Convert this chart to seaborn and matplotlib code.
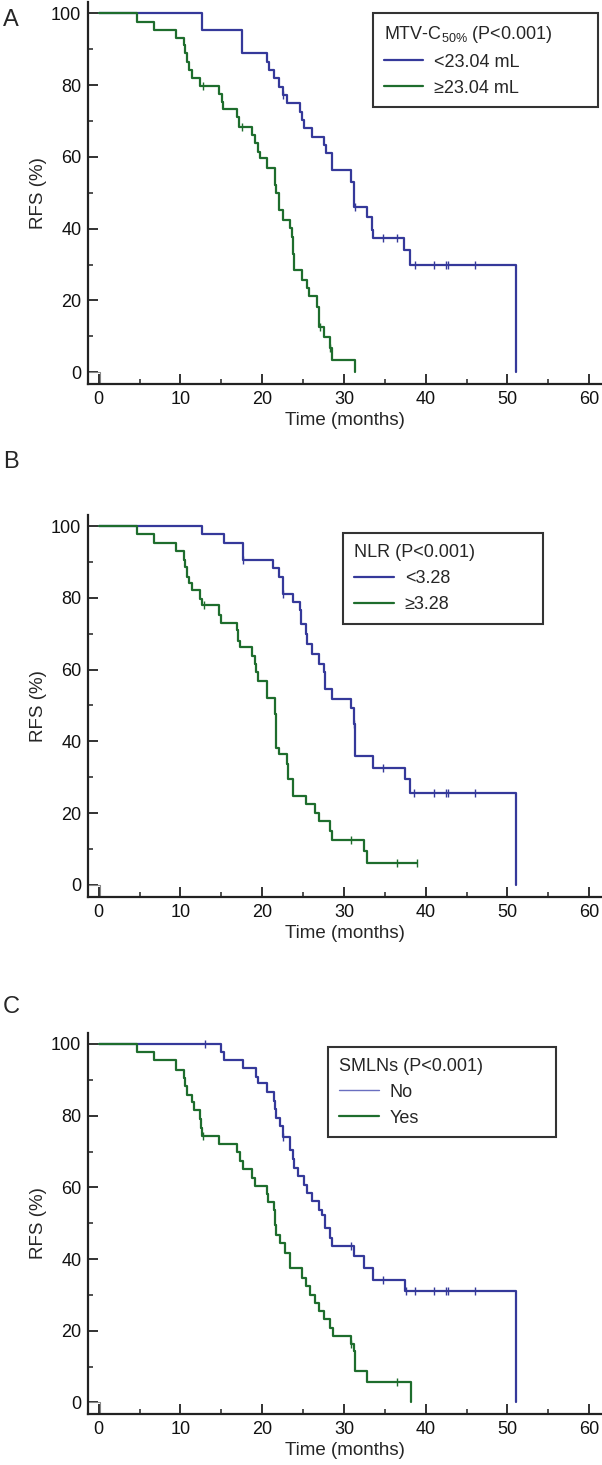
import numpy as np
import pandas as pd
import seaborn as sns
import matplotlib.pyplot as plt

# ---- data (time in months, RFS in %) ----
# Panel A: MTV-C50%
a_low_t = [0, 12.6, 17.5, 20.6, 20.8, 21.4, 22.0, 22.6, 23.0, 24.6, 24.9, 25.1, 26.1, 27.6, 27.8,
           28.5, 30.8, 31.2, 32.8, 33.4, 33.5, 37.3, 38.1, 51.0]
a_low_s = [100, 95.5, 88.9, 86.5, 84.2, 81.9, 79.6, 77.3, 75.0, 72.6, 70.3, 68.0, 65.6, 63.3, 61.0,
           56.4, 53.1, 46.1, 43.3, 39.6, 37.3, 34.0, 30.0, 0]
a_low_cens = [22.6, 31.3, 34.8, 36.5, 38.7, 41.0, 42.5, 42.7, 46.0]
a_high_t = [0, 4.65, 6.8, 9.4, 10.4, 10.6, 10.8, 11.0, 11.4, 12.4, 14.7, 15.1, 15.2, 16.9, 17.2,
            18.7, 19.1, 19.5, 19.7, 20.6, 21.6, 21.65, 22.0, 22.6, 23.4, 23.6, 23.8, 23.9, 24.9,
            25.5, 25.7, 26.7, 26.9, 27.5, 28.3, 28.5, 31.4]
a_high_s = [100, 97.7, 95.5, 93.2, 91.2, 88.9, 86.5, 84.2, 81.9, 79.8, 77.5, 75.4, 73.3, 71.2, 68.4,
            66.1, 63.8, 61.5, 59.6, 56.8, 52.3, 49.9, 45.2, 42.4, 40.1, 37.8, 33.0, 28.5, 25.8,
            23.4, 21.1, 18.3, 12.7, 9.9, 6.6, 3.4, 0]
a_high_cens = [12.8, 17.5, 27.1, 28.3]

# Panel B: NLR
b_low_t = [0, 12.6, 15.3, 17.6, 21.3, 22.0, 22.5, 23.8, 24.6, 24.7, 25.3, 25.5, 26.1, 26.9, 27.5,
           27.7, 28.5, 30.8, 31.2, 31.3, 31.4, 33.6, 37.5, 38.1, 51.0]
b_low_s = [100, 97.8, 95.3, 90.5, 88.2, 85.8, 81.2, 78.8, 76.5, 72.8, 70.0, 67.2, 64.4, 61.6, 59.2,
           54.6, 51.8, 49.4, 44.8, 40.1, 35.9, 32.6, 29.4, 25.6, 0]
b_low_cens = [17.6, 22.5, 31.2, 34.8, 38.6, 41.0, 42.5, 42.7, 46.0]
b_high_t = [0, 4.65, 6.8, 9.5, 10.4, 10.6, 10.8, 11.0, 11.4, 12.4, 12.6, 14.7, 15.0, 16.9, 17.0,
            17.3, 18.7, 19.1, 19.2, 19.5, 20.6, 21.6, 21.65, 21.7, 22.0, 23.0, 23.2, 23.8, 25.4,
            26.5, 26.9, 28.3, 28.5, 32.4, 32.8, 38.9]
b_high_s = [100, 97.7, 95.3, 93.0, 90.5, 88.6, 85.8, 84.0, 82.1, 79.8, 77.9, 75.1, 73.0, 70.9, 68.1,
            66.2, 63.9, 61.6, 59.2, 56.9, 52.2, 47.5, 42.8, 38.2, 36.4, 33.6, 29.4, 24.7, 22.4,
            20.0, 17.7, 14.9, 12.6, 9.3, 6.0, 6.0]
b_high_cens = [12.9, 30.8, 36.5, 38.9]

# Panel C: SMLNs
c_no_t = [0, 14.9, 15.3, 17.6, 19.3, 19.5, 20.6, 21.5, 21.6, 21.7, 22.2, 22.6, 23.4, 23.8, 23.9,
          24.4, 25.1, 25.5, 26.1, 26.9, 27.3, 27.7, 28.3, 28.5, 31.2, 32.4, 33.6, 37.5, 51.0]
c_no_s = [100, 97.9, 95.5, 93.2, 90.9, 89.0, 86.5, 84.2, 81.9, 79.3, 77.0, 74.0, 70.5, 68.0, 65.4,
          63.1, 60.8, 58.4, 56.1, 53.8, 52.4, 48.7, 45.9, 43.6, 40.8, 37.5, 34.3, 31.0, 0]
c_no_cens = [13.0, 22.6, 30.8, 34.8, 37.6, 38.7, 41.0, 42.5, 42.7, 46.0]
c_yes_t = [0, 4.65, 6.8, 9.5, 10.4, 10.6, 10.8, 11.4, 11.6, 12.4, 12.5, 12.6, 14.7, 16.9, 17.3,
           17.7, 18.7, 19.1, 20.6, 20.7, 21.4, 21.6, 21.65, 22.2, 22.8, 23.4, 24.9, 25.3, 25.9,
           26.5, 26.9, 27.5, 28.3, 28.7, 30.8, 31.2, 31.3, 31.4, 32.8, 38.2]
c_yes_s = [100, 97.9, 95.4, 92.8, 90.5, 88.2, 85.9, 83.8, 81.6, 79.0, 76.7, 74.4, 72.1, 69.8, 67.3,
           65.0, 62.7, 60.4, 58.1, 56.0, 53.8, 49.6, 46.8, 44.5, 41.7, 37.6, 34.8, 32.5, 30.1,
           27.8, 25.5, 23.2, 20.9, 18.5, 16.2, 14.4, 11.6, 8.8, 5.6, 0]
c_yes_cens = [12.8, 30.8, 36.5]

panel_letters = ["A", "B", "C"]
legend_titles = ["MTV-C$_{\\mathregular{50\\%}}$ (P<0.001)", "NLR (P<0.001)", "SMLNs (P<0.001)"]
group_labels = [["<23.04 mL", "\u226523.04 mL"], ["<3.28", "\u22653.28"], ["No", "Yes"]]

curves = [
    [(a_low_t, a_low_s, a_low_cens), (a_high_t, a_high_s, a_high_cens)],
    [(b_low_t, b_low_s, b_low_cens), (b_high_t, b_high_s, b_high_cens)],
    [(c_no_t, c_no_s, c_no_cens), (c_yes_t, c_yes_s, c_yes_cens)],
]

BLUE = "#35399a"
GREEN = "#1e6d2d"
AXC = "#222222"

sns.set_style("ticks")
plt.rcParams["font.family"] = ["Liberation Sans", "DejaVu Sans"]
plt.rcParams["mathtext.fontset"] = "custom"
plt.rcParams["mathtext.rm"] = "Liberation Sans"
plt.rcParams["font.size"] = 13

W, H = 602, 1465
fig = plt.figure(figsize=(W / 100, H / 100), dpi=100)

# axes boxes in pixels: (top, bottom)
ax_px = [(2, 384), (514.6, 896.7), (1032.5, 1414.3)]
left_px, right_px = 88.3, 601.5
letter_y = [19.5, 461.7, 1006.7]
# legend boxes in pixels: (x0, x1, top, bottom)
leg_px = [(372.7, 597.7, 12.7, 109.3), (343.3, 542.7, 533.3, 630.0), (328.3, 556.0, 1046.7, 1143.3)]

xlim = (-1.27, 61.5)
ylim = (-3.3, 103.2)


def surv_at(t, s, tc):
    idx = np.searchsorted(np.array(t), np.array(tc), side="right") - 1
    return np.array(s)[idx]


for i in range(3):
    top, bot = ax_px[i]
    ax = fig.add_axes([left_px / W, 1 - bot / H, (right_px - left_px) / W, (bot - top) / H])
    for (t, s, cens), col, lab in zip(curves[i], [BLUE, GREEN], group_labels[i]):
        df = pd.DataFrame({"t": t, "s": s})
        sns.lineplot(data=df, x="t", y="s", drawstyle="steps-post", estimator=None, sort=False,
                     color=col, lw=1.6, ax=ax, label=lab)
        cdf = pd.DataFrame({"t": cens, "s": surv_at(t, s, cens)})
        sns.scatterplot(data=cdf, x="t", y="s", marker="|", s=32, color=col, linewidth=1.0,
                        ax=ax, legend=False, zorder=3)

    # little corner box at the origin
    ax.plot([xlim[0], 0.2, 0.2], [0, 0, ylim[0]], color="#888888", lw=0.8, zorder=1)

    ax.set_xlim(*xlim)
    ax.set_ylim(*ylim)
    ax.set_xticks(range(0, 61, 10))
    ax.set_xticks(range(5, 61, 10), minor=True)
    ax.set_yticks(range(0, 101, 20))
    ax.set_yticks(range(10, 100, 20), minor=True)
    ax.tick_params(which="major", direction="in", length=7, width=1.3, color=AXC, labelsize=13,
                   pad=5, labelcolor="#111111")
    ax.tick_params(which="minor", direction="in", length=3.5, width=1.1, color=AXC)
    sns.despine(ax=ax)
    for sp in ["left", "bottom"]:
        ax.spines[sp].set_linewidth(1.6)
        ax.spines[sp].set_color(AXC)
    ax.set_xlabel("Time (months)", fontsize=13.5, labelpad=3)
    ax.set_ylabel("RFS (%)", fontsize=13.5, labelpad=3)

    x0, x1, lt, lb = leg_px[i]
    axw = right_px - left_px
    axh = bot - top
    bx0 = (x0 - left_px) / axw
    bw = (x1 - x0) / axw
    by0 = 1 - (lb - top) / axh
    bh = (lb - lt) / axh
    leg = ax.legend(title=legend_titles[i], loc="upper left", bbox_to_anchor=(bx0, by0, bw, bh),
                    mode="expand", borderaxespad=0, fontsize=13, title_fontsize=13,
                    alignment="left", frameon=True, fancybox=False, framealpha=1,
                    edgecolor="#333333", handlelength=2.2, handletextpad=0.6,
                    borderpad=0.6, labelspacing=0.5)
    leg.get_frame().set_linewidth(1.5)
    if i == 2:
        leg.get_lines()[0].set_linewidth(1.0)
        leg.get_lines()[0].set_color("#6a6fc0")

    fig.text(3 / W, 1 - letter_y[i] / H, panel_letters[i], fontsize=17, va="center", ha="left")

fig.savefig("out.png", dpi=100)
